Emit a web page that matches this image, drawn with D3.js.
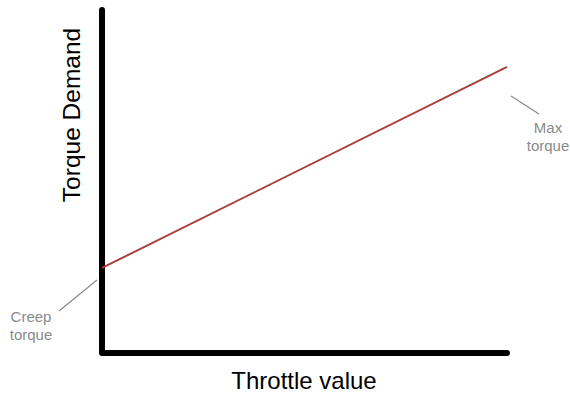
<!DOCTYPE html>
<html>
<head>
<meta charset="utf-8">
<script src="https://cdn.jsdelivr.net/npm/d3@7"></script>
<style>
  html, body { margin: 0; padding: 0; background: #fff; }
  svg { display: block; font-family: "Liberation Sans", Arial, sans-serif; }
</style>
</head>
<body>
<svg id="chart" width="570" height="394"></svg>
<script>
// Torque demand map: linear from creep torque at zero throttle up to max torque at full throttle
const throttle = [0, 100];
const torque = [24.8, 83.4];
const axisLabels = ["Throttle value", "Torque Demand"];
const notes = [["Creep", "torque"], ["Max", "torque"]];

const svg = d3.select("#chart");
const x = d3.scaleLinear().domain([0, 100]).range([102, 507]);
const y = d3.scaleLinear().domain([0, 100]).range([353, 10]);

// Axes drawn as heavy rounded strokes
svg.append("path")
  .attr("d", d3.line()([[x(0), y(100)], [x(0), y(0)], [x(100), y(0)]]))
  .attr("fill", "none")
  .attr("stroke", "#000")
  .attr("stroke-width", 6)
  .attr("stroke-linecap", "round")
  .attr("stroke-linejoin", "round");

// Demand line
const pts = throttle.map((t, i) => [x(t), y(torque[i])]);
svg.append("path")
  .attr("d", d3.line()(pts))
  .attr("fill", "none")
  .attr("stroke", "#a9403a")
  .attr("stroke-width", 2);

// Axis titles
svg.append("text")
  .attr("x", 304).attr("y", 389)
  .attr("text-anchor", "middle")
  .attr("font-size", 24)
  .attr("fill", "#000")
  .text(axisLabels[0]);

svg.append("text")
  .attr("transform", "translate(79.5,115) rotate(-90)")
  .attr("text-anchor", "middle")
  .attr("font-size", 24.5)
  .attr("fill", "#000")
  .text(axisLabels[1]);

// Annotations with leader lines
const grey = "#8a8a8a";
svg.append("line")
  .attr("x1", x(0) - 5).attr("y1", pts[0][1] + 12)
  .attr("x2", 59).attr("y2", 311)
  .attr("stroke", grey).attr("stroke-width", 1.2);

svg.append("line")
  .attr("x1", x(100) + 4).attr("y1", 96)
  .attr("x2", 539).attr("y2", 114)
  .attr("stroke", grey).attr("stroke-width", 1.2);

const creep = svg.append("text")
  .attr("font-size", 15).attr("fill", grey)
  .attr("text-anchor", "middle");
creep.selectAll("tspan").data(notes[0]).join("tspan")
  .attr("x", 31).attr("y", (d, i) => 322 + i * 18).text(d => d);

const maxT = svg.append("text")
  .attr("font-size", 15).attr("fill", grey)
  .attr("text-anchor", "middle");
maxT.selectAll("tspan").data(notes[1]).join("tspan")
  .attr("x", 548).attr("y", (d, i) => 133 + i * 18).text(d => d);
</script>
</body>
</html>
